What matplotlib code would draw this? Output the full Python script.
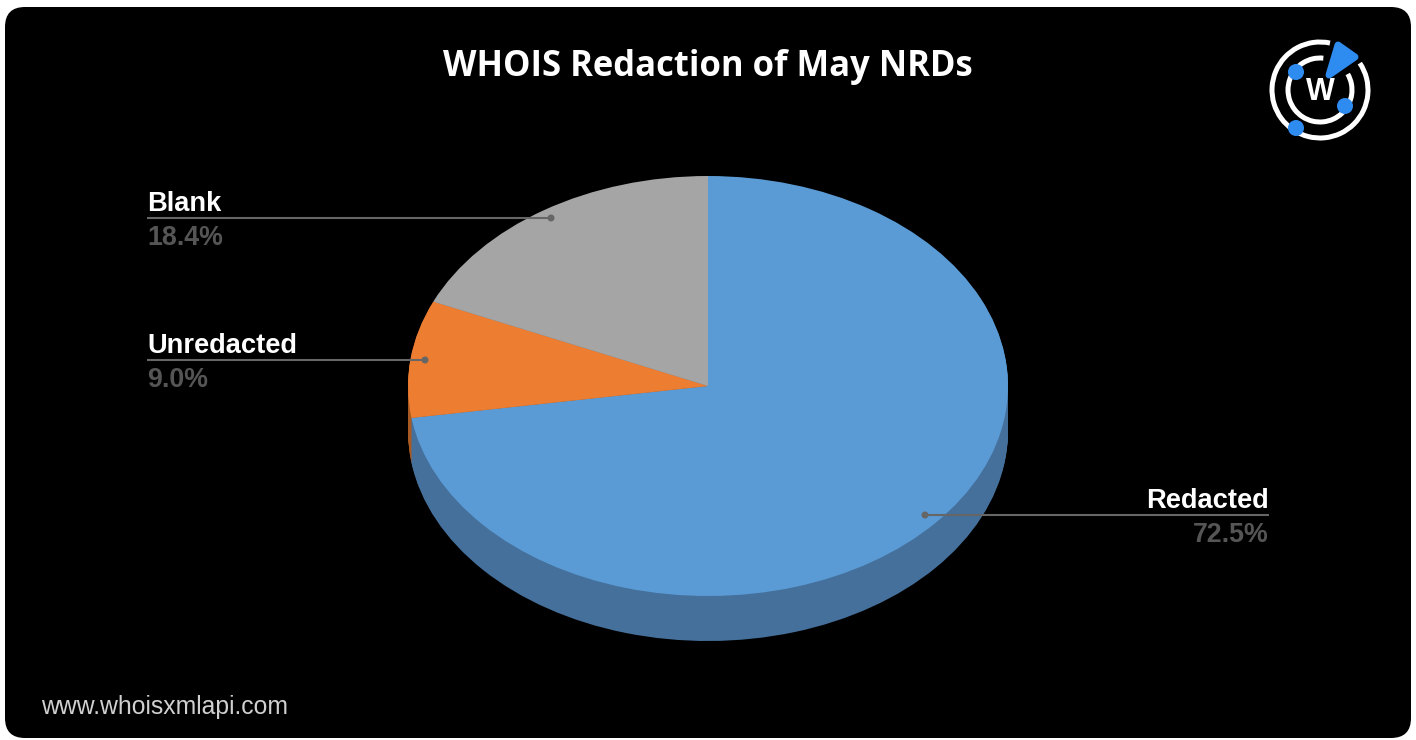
import matplotlib
matplotlib.use('Agg')
import matplotlib.pyplot as plt
from matplotlib.patches import Arc, Circle, FancyBboxPatch, Polygon

title = "WHOIS Redaction of May NRDs"
footer = "www.whoisxmlapi.com"
labels = ["Redacted", "Unredacted", "Blank"]
values = [72.5, 9.0, 18.4]
top_colors = ["#5b9bd5", "#ed7d31", "#a5a5a5"]
side_colors = ["#44709b", "#a85a22", "#777777"]

W, H = 1416, 740
cx, cy, rx, ry = 708, 386, 300, 210
depth = 45

fig = plt.figure(figsize=(W / 100, H / 100), dpi=100, facecolor='white')

# black card behind everything
card = FancyBboxPatch((5, 7), 1406, 731, boxstyle="round,pad=0,rounding_size=20",
                      fc='black', ec='none', transform=None)
card.set_transform(matplotlib.transforms.Affine2D().scale(1, -1).translate(0, H))
fig.add_artist(card)

# pie axes, one data unit = one radius, so the aspect gives the tilted look
pie_ax = fig.add_axes([0, 0, 1, 1], zorder=1)
pie_ax.patch.set_alpha(0)
for off in range(depth, 0, -1):
    pie_ax.pie(values, colors=side_colors, startangle=90, counterclock=False,
               center=(0, -off / ry), radius=1, wedgeprops={'linewidth': 0})
pie_ax.pie(values, colors=top_colors, startangle=90, counterclock=False,
           center=(0, 0), radius=1, wedgeprops={'linewidth': 0})
pie_ax.set_aspect('auto')
pie_ax.set_xlim((0 - cx) / rx, (W - cx) / rx)
pie_ax.set_ylim((cy - H) / ry, cy / ry)

# overlay in pixel coordinates for the text, leaders and logo
ax = fig.add_axes([0, 0, 1, 1], zorder=2)
ax.set_xlim(0, W)
ax.set_ylim(H, 0)
ax.axis('off')

ax.text(708, 67, title, color='white', fontsize=24.9, fontweight='bold',
        family='Open Sans', ha='center', va='center')
ax.text(41, 707, footer, color='#d0d0d0', fontsize=17.8, family='Liberation Sans',
        ha='left', va='center')

line_color = '#666666'
pct_color = '#555555'

leaders = [
    (labels[0], values[0], 1269, 925, 515, 'right'),
    (labels[1], values[1], 147, 425, 360, 'left'),
    (labels[2], values[2], 147, 551, 218, 'left'),
]
for name, val, x_txt, x_dot, y, align in leaders:
    ax.plot([x_txt, x_dot], [y, y], color=line_color, lw=1.5, solid_capstyle='butt')
    ax.add_patch(Circle((x_dot, y), 3.5, fc=line_color, ec='none'))
    ax.text(x_txt, y - 1, name, color='white', fontsize=19.6, fontweight='bold',
            family='Liberation Sans', ha=align, va='bottom')
    ax.text(x_txt, y + 7, f"{val:.1f}%", color=pct_color, fontsize=19.3, fontweight='bold',
            family='Liberation Sans', ha=align, va='top')

# logo
lx, ly = 1320, 90
ax.add_patch(Arc((lx, ly), 96, 96, theta1=-34, theta2=282, color='white', lw=3.6))
ax.add_patch(Arc((lx, ly), 64, 64, theta1=-30, theta2=276, color='white', lw=3.6))
blue = '#2e8bf0'
for px, py in [(1296, 72), (1345, 106), (1296, 128)]:
    ax.add_patch(Circle((px, py), 8, fc=blue, ec='none'))
ax.add_patch(Polygon([(1338, 45), (1355, 57), (1329, 75)], closed=True, fc=blue, ec=blue,
                     lw=5, joinstyle='round'))
ax.text(lx, ly + 2, "W", color='white', fontsize=22, fontweight='bold',
        family='Liberation Sans', ha='center', va='center')

fig.savefig('out.png', dpi=100, facecolor=fig.get_facecolor())
